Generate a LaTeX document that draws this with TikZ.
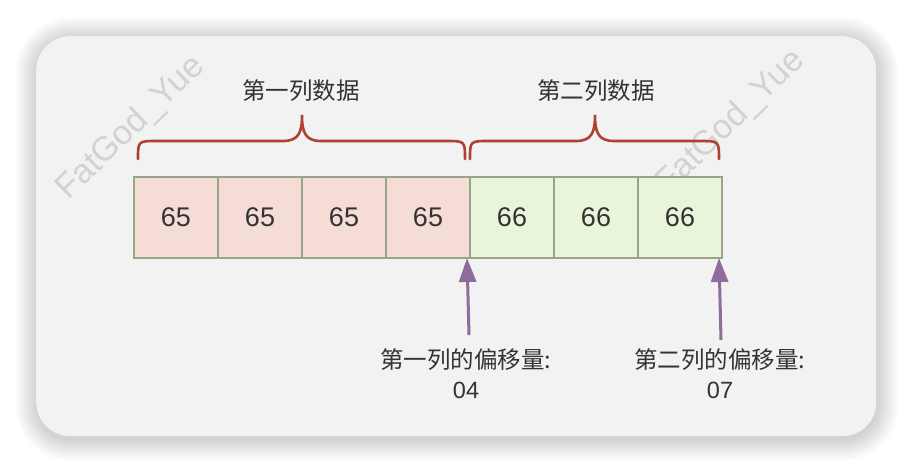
\documentclass[tikz,border=0pt]{standalone}
\usepackage{fontspec}
\setmainfont{Liberation Sans}
\newfontfamily\cjk{Noto Sans CJK SC}
\usetikzlibrary{arrows.meta,calc}
\definecolor{bgpanel}{HTML}{F2F2F2}
\definecolor{redfill}{HTML}{F6DCD6}
\definecolor{greenfill}{HTML}{E8F5DA}
\definecolor{cellborder}{HTML}{97A686}
\definecolor{bracecol}{HTML}{AE4132}
\definecolor{arrowcol}{HTML}{8C6D9C}
\definecolor{textcol}{HTML}{333333}
\definecolor{wmcol}{HTML}{D2D2D2}
\tikzset{
  cellbox/.style={draw=cellborder, line width=2pt, minimum width=84pt, minimum height=81pt,
    inner sep=0pt, outer sep=0pt, text=textcol, font=\fontsize{27}{30}\selectfont, anchor=north west},
  redcell/.style={cellbox, fill=redfill},
  greencell/.style={cellbox, fill=greenfill},
  bracepath/.style={draw=bracecol, line width=2.6pt, line cap=round},
  toplabel/.style={text=textcol, font=\cjk\fontsize{23.5}{26}\selectfont, inner sep=0pt},
  offlabel/.style={text=textcol, font=\cjk\fontsize{23.5}{30}\selectfont, align=center, inner sep=0pt},
  ptr/.style={draw=arrowcol, line width=3pt, -{Triangle[width=17pt,length=24pt]}, fill=arrowcol},
  watermark/.style={text=wmcol, font=\fontsize{34}{36}\selectfont, rotate=44, inner sep=0pt},
}
\begin{document}
\begin{tikzpicture}[x=1pt,y=-1pt]
\useasboundingbox (0,0) rectangle (912,472);
\fill[white] (0,0) rectangle (912,472);
% soft shadow
\foreach \i in {1,...,22} {
  \fill[black, opacity=0.009, rounded corners={34pt+\i pt}]
    (36-\i+1, 36-\i+3) rectangle (876+\i+1, 436+\i+3);
}
\node[fill=bgpanel, rounded corners=34pt, minimum width=840pt, minimum height=400pt, anchor=north west,
  inner sep=0pt] (panel) at (36,36) {};
% watermarks
\node[watermark] (wm1) at (131,128) {FatGod\_Yue};
\node[watermark] (wm2) at (731,122) {FatGod\_Yue};
% cells
\node[redcell] (c1) at (134,177) {65};
\node[redcell] (c2) at (c1.north east) {65};
\node[redcell] (c3) at (c2.north east) {65};
\node[redcell] (c4) at (c3.north east) {65};
\node[greencell] (c5) at (c4.north east) {66};
\node[greencell] (c6) at (c5.north east) {66};
\node[greencell] (c7) at (c6.north east) {66};
% braces
\draw[bracepath] (138,159) .. controls (138,141) .. (157,141) -- (283,141)
  .. controls (299,141) and (302,132) .. (302,115)
  .. controls (302,132) and (305,141) .. (321,141) -- (446,141)
  .. controls (465,141) .. (465,159);
\draw[bracepath] (470,159) .. controls (470,141) .. (489,141) -- (576,141)
  .. controls (592,141) and (595,132) .. (595,115)
  .. controls (595,132) and (598,141) .. (614,141) -- (700,141)
  .. controls (719,141) .. (719,159);
% top labels
\node[toplabel] (l1) at (301,91) {第一列数据};
\node[toplabel] (l2) at (596,91) {第二列数据};
% offset labels
\node[offlabel, anchor=north] (o1) at (466,348) {第一列的偏移量:\\{\fontspec{Liberation Sans}04}};
\node[offlabel, anchor=north] (o2) at (720,348) {第二列的偏移量:\\{\fontspec{Liberation Sans}07}};
\coordinate (t1) at ($(o1.north)+(3,-13)$);
\coordinate (t2) at ($(o2.north)+(1,-8)$);
\coordinate (h1) at ($(c4.south east)+(-3,0)$);
\coordinate (h2) at ($(c7.south east)+(-3,0)$);
\draw[ptr] (t1) -- (h1);
\draw[ptr] (t2) -- (h2);
\end{tikzpicture}
\end{document}
